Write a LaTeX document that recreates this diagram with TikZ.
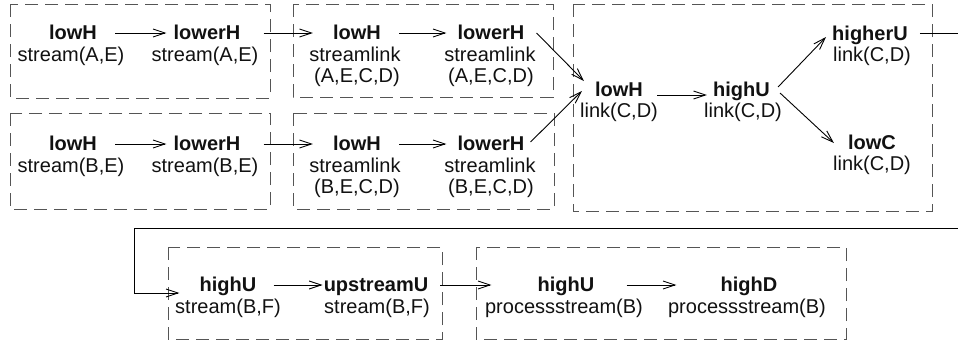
\documentclass[tikz,border=0pt]{standalone}
\usepackage{fontspec}
\setmainfont{Liberation Sans}
\usetikzlibrary{arrows.meta}
\definecolor{boxgray}{HTML}{555555}
\definecolor{txt}{HTML}{111111}
\tikzset{
  box/.style={draw=boxgray, line width=1pt, dash pattern=on 13pt off 7pt},
  arr/.style={draw=black, line width=0.9pt, -{Straight Barb[length=12pt,width=8pt]}},
  wire/.style={draw=black, line width=0.9pt},
  hb/.style={font=\fontsize{20}{21}\selectfont\bfseries, inner sep=0pt, anchor=base, text=txt},
  ht/.style={font=\fontsize{20}{21}\selectfont, inner sep=0pt, anchor=base, text=txt}
}
\begin{document}
\begin{tikzpicture}[x=1pt,y=-1pt]
\useasboundingbox (0,0) rectangle (958,343);
% boxes
\draw[box] (10,4) rectangle (270,98);
\draw[box] (10,113) rectangle (270,209);
\draw[box] (293,4) rectangle (553,97);
\draw[box] (293,113) rectangle (554,209);
\draw[box] (573,4) rectangle (932,211);
\draw[box] (168,247) rectangle (442,339);
\draw[box] (476,247) rectangle (846,339);
% top-left box
\node[hb] (a1) at (73,39) {lowH};
\node[ht] (a1s) at (71,61) {stream(A,E)};
\node[hb] (a2) at (207,39) {lowerH};
\node[ht] (a2s) at (205,61) {stream(A,E)};
% lower-left box
\node[hb] (b1) at (73,150) {lowH};
\node[ht] (b1s) at (71,172) {stream(B,E)};
\node[hb] (b2) at (207,150) {lowerH};
\node[ht] (b2s) at (205,172) {stream(B,E)};
% upper streamlink box
\node[hb] (c1) at (357,39) {lowH};
\node[ht] (c1s) at (355,61) {streamlink};
\node[ht] (c1t) at (357,82) {(A,E,C,D)};
\node[hb] (c2) at (491,39) {lowerH};
\node[ht] (c2s) at (490,61) {streamlink};
\node[ht] (c2t) at (491,82) {(A,E,C,D)};
% lower streamlink box
\node[hb] (d1) at (357,150) {lowH};
\node[ht] (d1s) at (355,172) {streamlink};
\node[ht] (d1t) at (357,193) {(B,E,C,D)};
\node[hb] (d2) at (491,150) {lowerH};
\node[ht] (d2s) at (490,172) {streamlink};
\node[ht] (d2t) at (491,193) {(B,E,C,D)};
% big box
\node[hb] (e1) at (619,96) {lowH};
\node[ht] (e1s) at (619,117) {link(C,D)};
\node[hb] (e2) at (741.5,96) {highU};
\node[ht] (e2s) at (743,117) {link(C,D)};
\node[hb] (e3) at (870,40) {higherU};
\node[ht] (e3s) at (872,61) {link(C,D)};
\node[hb] (e4) at (872,149) {lowC};
\node[ht] (e4s) at (872,170) {link(C,D)};
% bottom boxes
\node[hb] (f1) at (228,291) {highU};
\node[ht] (f1s) at (228,313) {stream(B,F)};
\node[hb] (f2) at (376,291) {upstreamU};
\node[ht] (f2s) at (377,313) {stream(B,F)};
\node[hb] (g1) at (566,291) {highU};
\node[ht] (g1s) at (564,313) {processstream(B)};
\node[hb] (g2) at (749,291) {highD};
\node[ht] (g2s) at (747,313) {processstream(B)};
% wrap coordinates
\coordinate (exA) at (958,33);
\coordinate (exB) at (958,228);
\coordinate (cnA) at (134,228);
\coordinate (cnB) at (134,293);
% arrows
\draw[arr] ([shift={(18,-6)}]a1.base east) -- ([shift={(-7,-6)}]a2.base west);
\draw[arr] ([shift={(23,-6)}]a2.base east) -- ([shift={(-20,-6)}]c1.base west);
\draw[arr] ([shift={(18,-6)}]c1.base east) -- ([shift={(-11,-6)}]c2.base west);
\draw[arr] ([shift={(18,-6)}]b1.base east) -- ([shift={(-7,-6)}]b2.base west);
\draw[arr] ([shift={(23,-6)}]b2.base east) -- ([shift={(-20,-6)}]d1.base west);
\draw[arr] ([shift={(18,-6)}]d1.base east) -- ([shift={(-11,-6)}]d2.base west);
\draw[arr] ([shift={(12,-6)}]c2.base east) -- ([shift={(-11,-15)}]e1.base west);
\draw[arr] ([shift={(6,-8)}]d2.base east) -- ([shift={(-13,-5)}]e1.base west);
\draw[arr] ([shift={(14,-1)}]e1.base east) -- ([shift={(-6,-1)}]e2.base west);
\draw[arr] ([shift={(8,-9)}]e2.base east) -- ([shift={(-6,-3)}]e3.base west);
\draw[arr] ([shift={(10,-3)}]e2.base east) -- ([shift={(-14,-6)}]e4.base west);
\draw[wire] ([shift={(12,-7)}]e3.base east) -- (exA);
\draw[arr] (exB) -- (cnA) -- (cnB) -- ([shift={(-20,2)}]f1.base west);
\draw[arr] ([shift={(17,-6)}]f1.base east) -- ([shift={(-1,-6)}]f2.base west);
\draw[arr] ([shift={(12,-6)}]f2.base east) -- ([shift={(-46,-6)}]g1.base west);
\draw[arr] ([shift={(32,-6)}]g1.base east) -- ([shift={(-44,-6)}]g2.base west);
\end{tikzpicture}
\end{document}
